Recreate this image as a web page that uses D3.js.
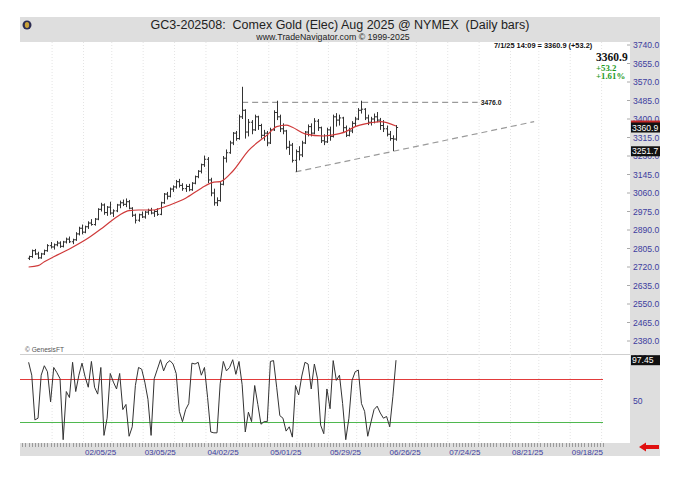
<!DOCTYPE html>
<html><head><meta charset="utf-8">
<script src="https://cdn.jsdelivr.net/npm/d3@7"></script>
<style>
html,body{margin:0;padding:0;background:#fff;}
svg{display:block;font-family:"Liberation Sans",Arial,sans-serif;}
text{white-space:pre;}
</style></head>
<body>
<svg id="c" width="680" height="477"></svg>
<script>
// ---------------- DATA ----------------
const firstBar = 6;              // index of first bar (trading-day index from 01/02/25)
const opens = [2760,2768,2795,2780,2762,2780,2795,2818,2812,2822,2830,2815,2835,2848,2836,2845,2872,2898,2880,2905,2922,2915,2940,2985,3005,2970,2995,2968,2978,3005,3015,3008,3020,2990,2958,2935,2960,2950,2972,2980,2968,2975,2962,3015,3055,3045,3078,3088,3112,3095,3080,3090,3075,3105,3135,3160,3190,3215,3120,3060,3015,3025,3100,3220,3245,3290,3335,3310,3410,3440,3340,3385,3350,3410,3370,3325,3335,3290,3350,3430,3410,3355,3345,3270,3280,3210,3250,3235,3290,3340,3365,3335,3390,3360,3300,3295,3350,3320,3410,3395,3405,3360,3325,3345,3380,3400,3440,3445,3405,3385,3400,3410,3395,3370,3355,3330,3310,3307.7];
const highs = [2772,2800,2803,2790,2785,2800,2825,2835,2828,2840,2838,2840,2855,2860,2850,2880,2905,2915,2910,2930,2940,2945,2990,3015,3012,3000,3020,2985,3010,3025,3030,3035,3028,2995,2965,2965,2975,2978,2988,2992,2982,2990,3020,3060,3065,3085,3095,3120,3125,3105,3100,3102,3110,3140,3165,3195,3232,3225,3130,3080,3040,3110,3230,3260,3300,3340,3345,3420,3548,3445,3400,3395,3420,3415,3378,3350,3345,3360,3440,3484,3420,3380,3350,3300,3290,3260,3275,3300,3345,3375,3380,3404,3400,3365,3330,3360,3365,3420,3427,3420,3410,3370,3360,3390,3410,3450,3484,3450,3420,3410,3425,3432,3405,3395,3370,3345,3325,3372];
const lows = [2752,2762,2775,2757,2758,2775,2790,2805,2800,2815,2808,2810,2828,2830,2825,2840,2865,2870,2875,2895,2910,2910,2935,2975,2960,2955,2960,2950,2972,2990,3000,2995,2985,2950,2920,2928,2945,2942,2960,2962,2950,2955,2958,3010,3030,3040,3065,3080,3085,3070,3065,3068,3070,3100,3128,3150,3180,3105,3045,3002,3000,3020,3095,3200,3240,3280,3300,3305,3400,3310,3320,3330,3345,3350,3310,3300,3275,3285,3345,3395,3340,3330,3260,3235,3200,3157,3210,3225,3285,3320,3320,3330,3345,3290,3280,3290,3300,3315,3365,3370,3340,3317,3320,3335,3365,3395,3425,3395,3372,3370,3380,3385,3350,3340,3320,3300,3253,3300];
const closes = [2768,2795,2780,2762,2780,2795,2818,2812,2822,2830,2815,2835,2848,2836,2845,2872,2898,2880,2905,2922,2915,2940,2985,3005,2970,2995,2968,2978,3005,3015,3008,3020,2990,2958,2935,2960,2950,2972,2980,2968,2975,2962,3015,3055,3045,3078,3088,3112,3095,3080,3090,3075,3105,3135,3160,3190,3215,3120,3060,3015,3025,3100,3220,3245,3290,3335,3310,3410,3440,3340,3385,3350,3410,3370,3325,3335,3290,3350,3430,3410,3355,3345,3270,3280,3210,3250,3235,3290,3340,3365,3335,3390,3360,3300,3295,3350,3320,3410,3395,3405,3360,3325,3345,3380,3400,3440,3445,3405,3385,3400,3410,3395,3370,3355,3330,3310,3307.7,3360.9];

// moving average (bar index, value)
const maIdx = [6,9,11,14,19,25,30,35,38,41,46,48,51,56,61,65,67,71,76,82,85,88,90,94,100,103,107,110,114,118,123];
const maVal = [2720,2726,2744,2767,2803,2853,2905,2959,2979,2982,2982,2990,3005,3036,3082,3110,3112,3160,3255,3327,3365,3372,3362,3332,3322,3327,3342,3365,3380,3388,3368];

// oscillator (lower panel), one value per bar
const osc = [95,80,28,30,80,91,84,49,89,83,76,5,61,54,95,61,80,94,78,66,96,66,58,89,10,30,82,72,64,82,40,46,9,20,68,89,87,72,52,10,76,87,98,85,94,97,93,82,38,26,40,47,94,93,95,80,89,54,
             14,13,13,70,96,85,89,98,81,96,69,14,37,26,68,46,23,26,26,96,97,66,33,30,15,20,8,68,57,79,95,93,64,93,76,22,12,64,41,97,74,80,47,5,30,74,84,86,47,38,9,25,40,44,36,30,32,20,55,97.45];
const oscUpper = 75, oscLower = 25;

const priceTicks = [3740,3655,3570,3485,3400,3315,3230,3145,3060,2975,2890,2805,2720,2635,2550,2465,2380];
const dateLabels = ["02/05/25","03/05/25","04/02/25","05/01/25","05/29/25","06/26/25","07/24/25","08/21/25","09/18/25"];
const dateIdx = [23,42,62,82,101,120,139,159,178];
const gridIdx = [13,23,32,42,52,62,72,82,91,101,110,120,129,139,149,159,168,178,188];

const resistance = {i0:74, i1:149, v:3476.0};
const support = {i0:91, v0:3157, i1:167, v1:3388};
const lastPrice = 3360.9, trendLabel = 3251.7, maLabel = 3370, oscLast = 97.45;

// ---------------- LAYOUT ----------------
const svg = d3.select("#c");
const L = 20, R = 630, G = 660;
const pTop = 42, pBot = 354, iTop = 355, iBot = 443, fTop = 17, fBot = 456;

const x = d3.scaleLinear().domain([123 - (396 - L) / 3.14, 123 + (R - 396) / 3.14]).range([L, R]);
const y = d3.scaleLinear().domain([2380, 3740]).range([341, 45]);
const yi = d3.scaleLinear().domain([0, 100]).range([444, 358]);

// frame
svg.append("rect").attr("x", L).attr("y", fTop).attr("width", G - L).attr("height", fBot - fTop).attr("fill", "#dedede");
svg.append("rect").attr("x", L).attr("y", pTop).attr("width", R - L).attr("height", pBot - pTop).attr("fill", "#fff");
svg.append("rect").attr("x", L).attr("y", iTop).attr("width", R - L).attr("height", iBot - iTop).attr("fill", "#fff");
svg.append("line").attr("x1", L).attr("x2", R).attr("y1", pBot + 0.5).attr("y2", pBot + 0.5).attr("stroke", "#cfcfcf");

// grid
svg.append("g").selectAll("line").data(gridIdx).join("line")
  .attr("x1", d => x(d) + 1.5).attr("x2", d => x(d) + 1.5)
  .attr("y1", pTop).attr("y2", iBot)
  .attr("stroke", "#e4e4e4").attr("stroke-dasharray", "1,2");

// header
svg.append("circle").attr("cx", 27).attr("cy", 25).attr("r", 4.5).attr("fill", "#2c2c52");
svg.append("ellipse").attr("cx", 27).attr("cy", 25).attr("rx", 2.2).attr("ry", 3).attr("fill", "#c9a23a");
svg.append("text").attr("x", 340).attr("y", 29).attr("text-anchor", "middle")
  .attr("font-size", 12.5).attr("fill", "#222").text("GC3-202508:  Comex Gold (Elec) Aug 2025 @ NYMEX  (Daily bars)");
svg.append("text").attr("x", 333).attr("y", 39.5).attr("text-anchor", "middle")
  .attr("font-size", 8.8).attr("fill", "#222").text("www.TradeNavigator.com \u00a9 1999-2025");

svg.append("text").attr("x", 494).attr("y", 48).attr("font-size", 7.4).attr("font-weight", "bold").attr("fill", "#111")
  .text("7/1/25 14:09 = 3360.9 (+53.2)");
svg.append("text").attr("x", 596).attr("y", 60.5).attr("font-family", "'Liberation Serif','DejaVu Serif',serif")
  .attr("font-size", 11.5).attr("font-weight", "bold").attr("fill", "#111").text(lastPrice.toFixed(1));
svg.append("text").attr("x", 596).attr("y", 71).attr("font-family", "'Liberation Serif','DejaVu Serif',serif")
  .attr("font-size", 8.8).attr("font-weight", "bold").attr("fill", "#1e9a1e").text("+53.2");
svg.append("text").attr("x", 596).attr("y", 79).attr("font-family", "'Liberation Serif','DejaVu Serif',serif")
  .attr("font-size", 8.8).attr("font-weight", "bold").attr("fill", "#1e9a1e").text("+1.61%");

// right price axis
const axG = svg.append("g");
axG.selectAll("line").data(priceTicks).join("line")
  .attr("x1", R - 3).attr("x2", R).attr("y1", d => y(d)).attr("y2", d => y(d)).attr("stroke", "#aaa");
axG.selectAll("text").data(priceTicks).join("text")
  .attr("x", R + 3).attr("y", d => y(d)).attr("dy", "0.35em").attr("font-size", 8.6).attr("fill", "#3d3d9e")
  .text(d => d3.format(".1f")(d));

// dashed lines
svg.append("line").attr("x1", x(resistance.i0)).attr("x2", x(resistance.i1))
  .attr("y1", y(resistance.v)).attr("y2", y(resistance.v))
  .attr("stroke", "#9a9a9a").attr("stroke-width", 1.2).attr("stroke-dasharray", "6,4");
svg.append("text").attr("x", x(resistance.i1) + 3).attr("y", y(resistance.v)).attr("dy", "0.35em")
  .attr("font-size", 6.8).attr("font-weight", "bold").attr("fill", "#222").text(resistance.v.toFixed(1));
svg.append("line").attr("x1", x(support.i0)).attr("x2", x(support.i1))
  .attr("y1", y(support.v0)).attr("y2", y(support.v1))
  .attr("stroke", "#9a9a9a").attr("stroke-width", 1.2).attr("stroke-dasharray", "6,4");

// bars
const bars = closes.map((c, k) => ({i: firstBar + k, o: opens[k], h: highs[k], l: lows[k], c}));
const bg = svg.append("g").attr("stroke", "#333").attr("stroke-width", 1);
bg.selectAll("path").data(bars).join("path")
  .attr("fill", "none")
  .attr("d", d => {
    const cx = Math.round(x(d.i)) + 0.5;
    return `M${cx},${y(d.h)}V${y(d.l)}M${cx - 1.6},${y(d.o)}H${cx}M${cx},${y(d.c)}H${cx + 1.6}`;
  });

// moving average
const maPts = maIdx.map((d, k) => [d, maVal[k]]);
svg.append("path").datum(maPts)
  .attr("fill", "none").attr("stroke", "#cf3a3a").attr("stroke-width", 1.2)
  .attr("d", d3.line().x(d => x(d[0])).y(d => y(d[1])).curve(d3.curveMonotoneX));

// price labels on axis
function boxLabel(yy, txt, bgc) {
  svg.append("rect").attr("x", R + 1).attr("y", yy - 5).attr("width", 29).attr("height", 10).attr("fill", bgc);
  svg.append("text").attr("x", R + 2).attr("y", yy).attr("dy", "0.36em").attr("font-size", 8.6).attr("fill", "#fff").text(txt);
}
svg.append("rect").attr("x", R + 1).attr("y", y(maLabel) - 5).attr("width", 29).attr("height", 10).attr("fill", "#c62828");
boxLabel(y(lastPrice), lastPrice.toFixed(1), "#111");
boxLabel(y(trendLabel), trendLabel.toFixed(1), "#111");

svg.append("text").attr("x", 25).attr("y", 352).attr("font-size", 6.6).attr("fill", "#555").text("\u00a9 GenesisFT");

// oscillator panel
svg.append("line").attr("x1", L).attr("x2", 603).attr("y1", yi(oscUpper)).attr("y2", yi(oscUpper)).attr("stroke", "#e23b3b").attr("stroke-width", 1.2);
svg.append("line").attr("x1", L).attr("x2", 603).attr("y1", yi(oscLower)).attr("y2", yi(oscLower)).attr("stroke", "#4fb84f").attr("stroke-width", 1.2);
svg.append("path").datum(osc)
  .attr("fill", "none").attr("stroke", "#333").attr("stroke-width", 1)
  .attr("d", d3.line().x((d, k) => x(firstBar + k)).y(d => yi(d)));
svg.append("text").attr("x", R + 3).attr("y", yi(50)).attr("dy", "0.35em").attr("font-size", 8.6).attr("fill", "#3d3d9e").text("50");
svg.append("text").attr("x", R + 3).attr("y", yi(100)).attr("dy", "0.35em").attr("font-size", 8.6).attr("fill", "#3d3d9e").text("100");
boxLabel(yi(oscLast), oscLast.toFixed(2), "#111");

// bottom axis: per-bar ticks + date labels
const tickIdx = d3.range(4, 190);
svg.append("g").selectAll("line").data(tickIdx).join("line")
  .attr("x1", d => Math.round(x(d)) + 0.5).attr("x2", d => Math.round(x(d)) + 0.5)
  .attr("y1", iBot).attr("y2", iBot + 4).attr("stroke", "#8a8a8a").attr("stroke-width", 0.8);
svg.append("g").selectAll("text").data(dateLabels).join("text")
  .attr("x", (d, k) => x(dateIdx[k]) + 3).attr("y", 452).attr("dy", "0.35em")
  .attr("font-size", 8).attr("fill", "#3d3d9e").text(d => d);

// red arrow
svg.append("path").attr("d", "M639,447 L646,442.5 L646,445 L659,445 L659,449 L646,449 L646,451.5 Z").attr("fill", "#e01010");
</script>
</body></html>
